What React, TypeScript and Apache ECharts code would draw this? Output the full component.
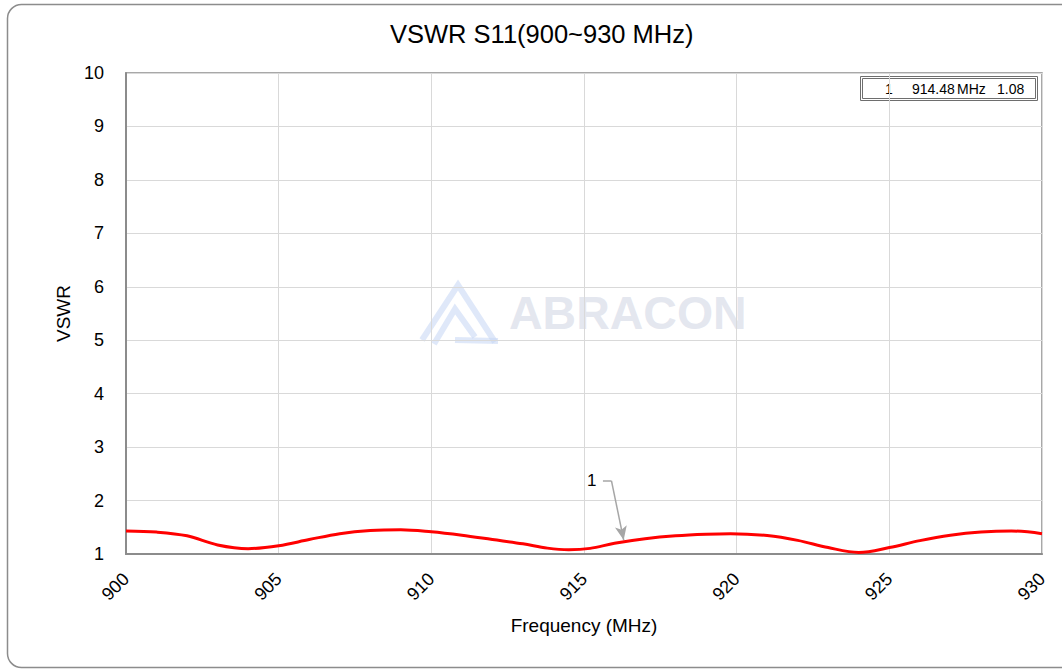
import React, { useEffect, useRef } from "react";
import * as echarts from "echarts";

const freqs = [900, 901, 902, 903, 904, 905, 906, 907, 908, 909, 910, 911, 912, 913, 913.8, 914.5, 915.2, 916, 917, 918, 919, 919.8, 921, 922, 923, 924, 925, 926, 927, 928, 929, 930];
const vswr = [1.43, 1.41, 1.34, 1.17, 1.10, 1.155, 1.27, 1.38, 1.44, 1.455, 1.415, 1.35, 1.27, 1.19, 1.11, 1.08, 1.105, 1.20, 1.285, 1.34, 1.37, 1.38, 1.345, 1.255, 1.12, 1.03, 1.12, 1.25, 1.35, 1.41, 1.43, 1.38];
const markerLabel = ["1", "914.48", "MHz", "1.08"];
const annotationText: [number, number] = [915.25, 2.37];
const annotationBend: [number, number] = [915.9, 2.37];
const annotationStart: [number, number] = [915.62, 2.37];
const annotationTip: [number, number] = [916.3, 1.26];

export default function App() {
  const ref = useRef<HTMLDivElement>(null);
  useEffect(() => {
    if (!ref.current) return;
    const chart = echarts.init(ref.current, null, { renderer: "svg" });
    const font = "'Liberation Sans', Arial, sans-serif";
    const logoColor = "rgba(196,214,244,0.55)";
    chart.setOption({
      animation: false,
      backgroundColor: "#ffffff",
      title: {
        text: "VSWR S11(900~930 MHz)",
        left: 385,
        top: 16,
        textStyle: { fontFamily: font, fontSize: 25.5, fontWeight: "normal", color: "#000" },
      },
      grid: {
        left: 126,
        right: 20,
        top: 73,
        bottom: 115,
        show: true,
        borderColor: "#8c8c8c",
        borderWidth: 1.5,
        containLabel: false,
      },
      xAxis: {
        type: "value",
        min: 900,
        max: 930,
        interval: 5,
        name: "Frequency (MHz)",
        nameLocation: "middle",
        nameGap: 62,
        nameTextStyle: { fontFamily: font, fontSize: 19, color: "#000" },
        axisLine: { show: true, lineStyle: { color: "#8c8c8c", width: 2 } },
        axisTick: { show: false },
        axisLabel: { rotate: 45, margin: 22, fontFamily: font, fontSize: 18, color: "#000" },
        splitLine: { show: true, lineStyle: { color: "#d9d9d9", width: 1 } },
      },
      yAxis: {
        type: "value",
        min: 1,
        max: 10,
        interval: 1,
        name: "VSWR",
        nameLocation: "middle",
        nameGap: 53,
        nameTextStyle: { fontFamily: font, fontSize: 19, color: "#000" },
        axisLine: { show: true, lineStyle: { color: "#8c8c8c", width: 2 } },
        axisTick: { show: false },
        axisLabel: { margin: 22, fontFamily: font, fontSize: 18, color: "#000" },
        splitLine: { show: true, lineStyle: { color: "#d9d9d9", width: 1 } },
      },
      graphic: [
        {
          type: "rect",
          shape: { x: 7.5, y: 4.5, width: 1080, height: 663, r: 14 },
          style: { fill: "none", stroke: "#8c8c8c", lineWidth: 1.5 },
          z: -10,
          silent: true,
        },
        {
          type: "group",
          z: 0,
          silent: true,
          children: [
            { type: "polyline", shape: { points: [[422, 340], [458, 285], [495, 342]] }, style: { stroke: logoColor, lineWidth: 6, fill: "none" } },
            { type: "polyline", shape: { points: [[434, 344], [455, 309], [475, 337]] }, style: { stroke: logoColor, lineWidth: 6, fill: "none" } },
            { type: "line", shape: { x1: 455, y1: 340, x2: 498, y2: 341 }, style: { stroke: logoColor, lineWidth: 6 } },
            {
              type: "text",
              x: 509,
              y: 313,
              style: {
                text: "ABRACON",
                font: "bold 46.5px 'Liberation Sans', Arial, sans-serif",
                fill: "rgba(205,210,226,0.55)",
                textVerticalAlign: "middle",
              },
            },
          ],
        },
        {
          type: "group",
          z: 50,
          children: [
            { type: "rect", shape: { x: 860.5, y: 76.5, width: 177, height: 24 }, style: { fill: "#fff", stroke: "#6e6e6e", lineWidth: 1 } },
            { type: "rect", shape: { x: 862.5, y: 78.5, width: 173, height: 20 }, style: { fill: "none", stroke: "#6e6e6e", lineWidth: 1 } },
            { type: "text", x: 889, y: 89, style: { text: markerLabel[0], font: "14px 'Liberation Sans', Arial, sans-serif", fill: "#000", textAlign: "center", textVerticalAlign: "middle" } },
            { type: "text", x: 912, y: 89, style: { text: markerLabel[1], font: "14px 'Liberation Sans', Arial, sans-serif", fill: "#000", textAlign: "left", textVerticalAlign: "middle" } },
            { type: "text", x: 957, y: 89, style: { text: markerLabel[2], font: "14px 'Liberation Sans', Arial, sans-serif", fill: "#000", textAlign: "left", textVerticalAlign: "middle" } },
            { type: "text", x: 997, y: 89, style: { text: markerLabel[3], font: "14px 'Liberation Sans', Arial, sans-serif", fill: "#000", textAlign: "left", textVerticalAlign: "middle" } },
          ],
        },
      ],
      series: [
        {
          type: "line",
          data: freqs.map((f, i) => [f, vswr[i]]),
          smooth: 0.35,
          showSymbol: false,
          symbol: "none",
          lineStyle: { color: "#ff0000", width: 3 },
          z: 5,
          markPoint: {
            symbol: "circle",
            symbolSize: 1,
            itemStyle: { color: "rgba(0,0,0,0)" },
            label: { show: true, formatter: "1", fontFamily: font, fontSize: 17, color: "#000", position: "inside" },
            data: [{ coord: annotationText }],
          },
          markLine: {
            silent: true,
            symbol: ["none", "none"],
            label: { show: false },
            lineStyle: { color: "#a6a6a6", width: 1.5, type: "solid" },
            data: [
              [{ coord: annotationStart }, { coord: annotationBend }],
              [
                { coord: annotationBend, symbol: "none" },
                { coord: annotationTip, symbol: "arrow", symbolSize: [9, 14] },
              ],
            ],
          },
        },
      ],
    });
    return () => chart.dispose();
  }, []);
  return <div ref={ref} style={{ position: "fixed", left: 0, top: 0, width: 1062, height: 669 }} />;
}
